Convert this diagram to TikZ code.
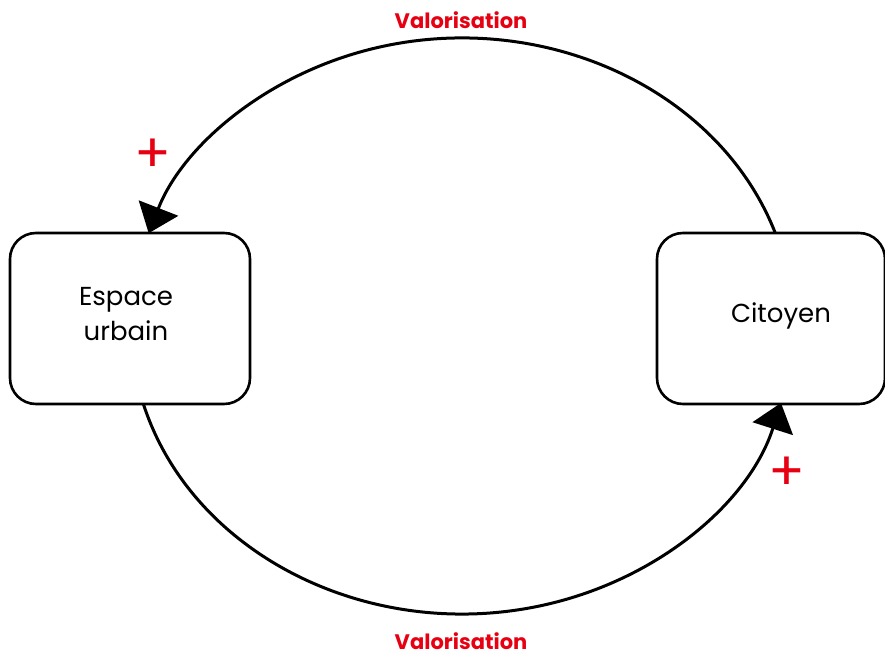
\documentclass[tikz,border=0pt]{standalone}
\usepackage{fontspec}
\setmainfont{Poppins}
\usetikzlibrary{arrows.meta,calc}
\definecolor{lblred}{RGB}{230,0,18}
\begin{document}
\begin{tikzpicture}[x=1pt,y=1pt,
  box/.style={draw=black,line width=2.6pt,rounded corners=26pt,minimum width=240pt,minimum height=171pt,inner sep=0pt},
  conn/.style={line width=3pt,-{Triangle[length=27pt,width=42pt]}},
  lbl/.style={text=lblred,font=\fontsize{21}{24}\selectfont\bfseries},
  plus/.style={text=lblred,font=\fontsize{54}{54}\selectfont},
  txt/.style={font=\fontsize{26}{35}\selectfont,align=center}]
\useasboundingbox (0,0) rectangle (885,657);
\node[box] (E) at (130,338.5) {};
\node[txt] (Et) at (126,343) {Espace\\urbain};
\node[box,minimum width=228pt] (C) at (771,338.5) {};
\node[txt] (Ct) at (781,341) {Citoyen};
\coordinate (O) at (462,331);
\draw[conn] ($(O)+(18.9:331 and 288)$) arc[start angle=18.9,end angle=161.2,x radius=331,y radius=288];
\draw[conn] ($(O)+(195.7:331 and 288)$) arc[start angle=195.7,end angle=344.5,x radius=331,y radius=288];
\node[lbl] (v1) at (461,637) {Valorisation};
\node[lbl] (v2) at (461,16) {Valorisation};
\node[plus] (p1) at (153,501) {+};
\node[plus] (p2) at (787,183) {+};
\end{tikzpicture}
\end{document}
